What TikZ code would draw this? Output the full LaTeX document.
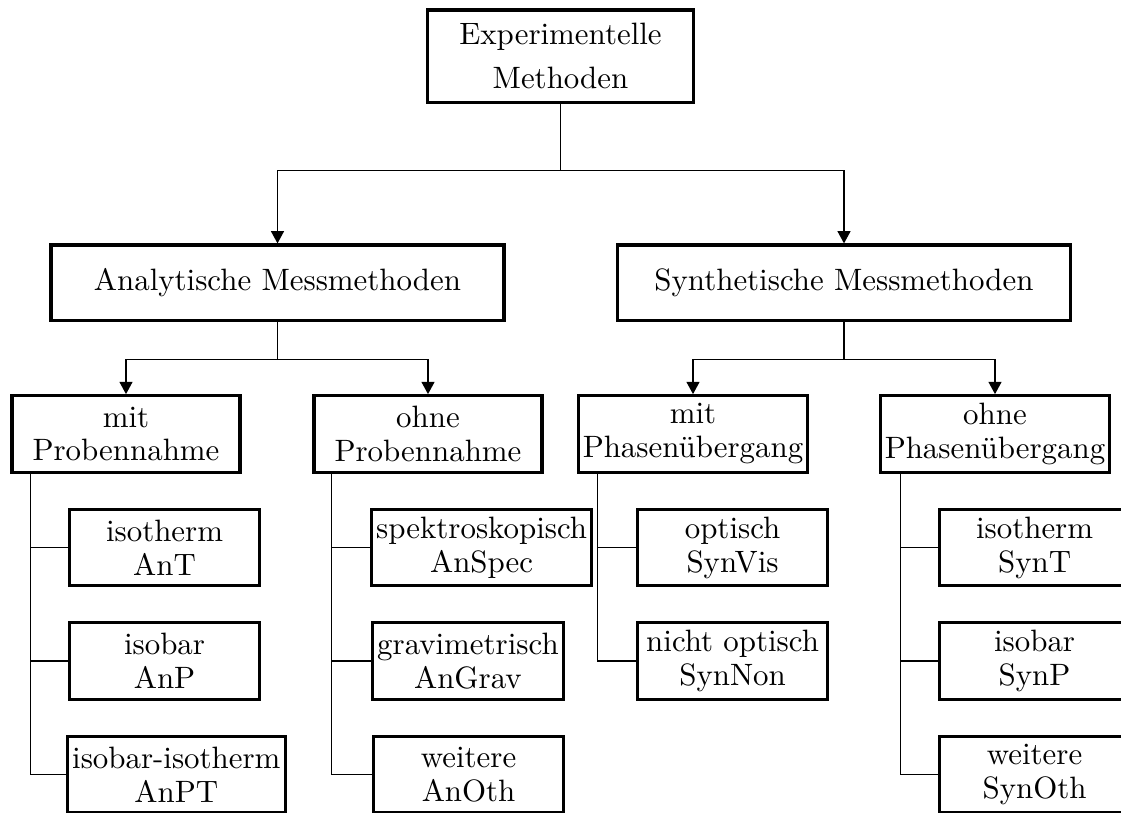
\documentclass[tikz,border=0pt]{standalone}
\usepackage{fontspec}
\usetikzlibrary{positioning,arrows.meta}

\tikzset{
  box/.style={draw, line width=1pt, align=center, inner xsep=1.5pt, inner ysep=0.5pt,
    font=\fontsize{10}{11}\selectfont},
  topbox/.style={box, minimum width=86pt, minimum height=29.8pt,
    font=\fontsize{10}{14.2}\selectfont},
  headbox/.style={box, minimum width=146.6pt, minimum height=24.3pt},
  midbox/.style={box, minimum width=73.8pt, minimum height=24.8pt},
  leaf/.style={box, minimum width=61.5pt, minimum height=24.8pt, anchor=west},
  conn/.style={draw, line width=0.5pt},
  arr/.style={conn, -{Triangle[length=4pt,width=4.2pt]}},
}

\begin{document}
\begin{tikzpicture}[x=0.3236pt, y=-0.3236pt]
  \useasboundingbox (0,0) rectangle (1121,812);
  \clip (0,0) rectangle (1121,812);

  % top
  \node (exp) [topbox] at (560.5,56) {Experimentelle\\Methoden};

  % analytisch / synthetisch
  \node (ana) [headbox] at (277.5,282.5) {Analytische Messmethoden};
  \node (syn) [headbox] at (844,282.5) {Synthetische Messmethoden};

  \node (mitP)   [midbox] at (126,434) {mit\\Probennahme};
  \node (ohneP)  [midbox] at (428,434) {ohne\\Probennahme};
  \node (mitPh)  [midbox] at (693,434) {mit\\Phasenübergang};
  \node (ohnePh) [midbox] at (995,434) {ohne\\Phasenübergang};

  % leaves
  \node (AnT)  [leaf] at (68,547.5) {isotherm\\AnT};
  \node (AnP)  [leaf] at (68,661)   {isobar\\AnP};
  \node (AnPT) [leaf] at (66,774.5) {isobar-isotherm\\AnPT};

  \node (AnSpec) [leaf] at (370,547.5) {spektroskopisch\\AnSpec};
  \node (AnGrav) [leaf] at (371,661)   {gravimetrisch\\AnGrav};
  \node (AnOth)  [leaf] at (372,774.5) {weitere\\AnOth};

  \node (SynVis) [leaf] at (636,547.5) {optisch\\SynVis};
  \node (SynNon) [leaf] at (636,661)   {nicht optisch\\SynNon};

  \node (SynT)   [leaf] at (938,547.5) {isotherm\\SynT};
  \node (SynP)   [leaf] at (938,661)   {isobar\\SynP};
  \node (SynOth) [leaf] at (938,774.5) {weitere\\SynOth};

  % connectors
  \draw[arr] (exp.south) -- ++(0,67) -| (ana.north);
  \draw[arr] (exp.south) -- ++(0,67) -| (syn.north);

  \draw[arr] (ana.south) -- ++(0,38) -| (mitP.north);
  \draw[arr] (ana.south) -- ++(0,38) -| (ohneP.north);
  \draw[arr] (syn.south) -- ++(0,38) -| (mitPh.north);
  \draw[arr] (syn.south) -- ++(0,38) -| (ohnePh.north);

  \draw[conn] (mitP.south west) ++(20,0) |- (AnT.west);
  \draw[conn] (mitP.south west) ++(20,0) |- (AnP.west);
  \draw[conn] (mitP.south west) ++(20,0) |- (AnPT.west);

  \draw[conn] (ohneP.south west) ++(19,0) |- (AnSpec.west);
  \draw[conn] (ohneP.south west) ++(19,0) |- (AnGrav.west);
  \draw[conn] (ohneP.south west) ++(19,0) |- (AnOth.west);

  \draw[conn] (mitPh.south west) ++(21,0) |- (SynVis.west);
  \draw[conn] (mitPh.south west) ++(21,0) |- (SynNon.west);

  \draw[conn] (ohnePh.south west) ++(22,0) |- (SynT.west);
  \draw[conn] (ohnePh.south west) ++(22,0) |- (SynP.west);
  \draw[conn] (ohnePh.south west) ++(22,0) |- (SynOth.west);
\end{tikzpicture}
\end{document}
